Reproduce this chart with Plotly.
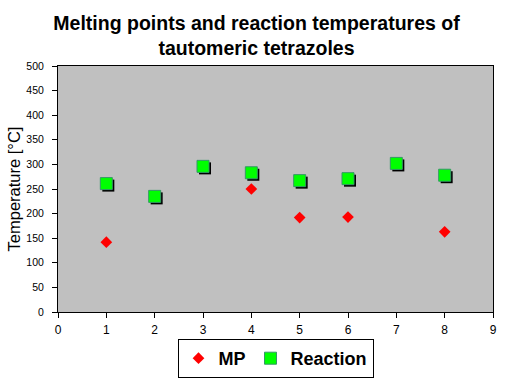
import plotly.graph_objects as go

mp_x = [1, 4, 5, 6, 8]
mp_y = [142, 250, 192, 193, 163]
rx_x = [1, 2, 3, 4, 5, 6, 7, 8]
rx_y = [261, 235, 296, 283, 267, 271, 302, 278]

x_ticks = list(range(0, 10))
y_ticks = list(range(0, 501, 50))

W, H = 513, 386
L, R, T, B = 58, 20, 66, 74
px_x = (W - L - R) / 9.0
px_y = (H - T - B) / 500.0
sdx = 2 / px_x
sdy = 2 / px_y

fig = go.Figure()
fig.add_trace(go.Scatter(
    x=[v + sdx for v in rx_x], y=[v - sdy for v in rx_y], mode="markers",
    marker=dict(symbol="square", size=12, color="black", line=dict(width=0)),
    showlegend=False, hoverinfo="skip"))
fig.add_trace(go.Scatter(
    x=mp_x, y=mp_y, mode="markers", name="MP",
    marker=dict(symbol="diamond", size=9, color="#FF0000", line=dict(width=0))))
fig.add_trace(go.Scatter(
    x=rx_x, y=rx_y, mode="markers", name="Reaction",
    marker=dict(symbol="square", size=12, color="#00FF00", line=dict(width=1, color="#339966"))))

fig.update_layout(
    width=W, height=H,
    margin=dict(l=L, r=R, t=T, b=B, autoexpand=False),
    paper_bgcolor="white", plot_bgcolor="#C0C0C0",
    font=dict(family="Liberation Sans, Arial", color="black", size=11),
    title=dict(text="<b>Melting points and reaction temperatures of<br>tautomeric tetrazoles</b>",
               x=0.5, xanchor="center", yref="container", y=1 - 30 / H, yanchor="middle",
               font=dict(size=19.5, family="Liberation Sans, Arial")),
    showlegend=True,
    legend=dict(orientation="h", x=0.5, xanchor="center", y=-27 / (H - T - B), yanchor="top",
                bordercolor="black", borderwidth=1, bgcolor="white",
                font=dict(size=18, family="Liberation Sans, Arial", weight="bold"),
                itemwidth=30, tracegroupgap=0),
    xaxis=dict(range=[0, 9], tickvals=x_ticks, ticks="outside", ticklen=5,
               tickcolor="black", showgrid=False, zeroline=False, automargin=False,
               showline=True, linecolor="black", linewidth=1, mirror=True,
               tickfont=dict(size=12), ticklabelstandoff=2),
    yaxis=dict(range=[0, 500], tickvals=y_ticks, ticks="outside", ticklen=5,
               tickcolor="black", showgrid=False, zeroline=False, automargin=False,
               showline=True, linecolor="black", linewidth=1, mirror=True,
               title=dict(text="Temperature [°C]", font=dict(size=16.5), standoff=1),
               tickfont=dict(size=10.5), ticklabelstandoff=6),
)
fig.write_html("out.html", config={"displayModeBar": False},
               post_script="document.body.style.margin='0px';")
